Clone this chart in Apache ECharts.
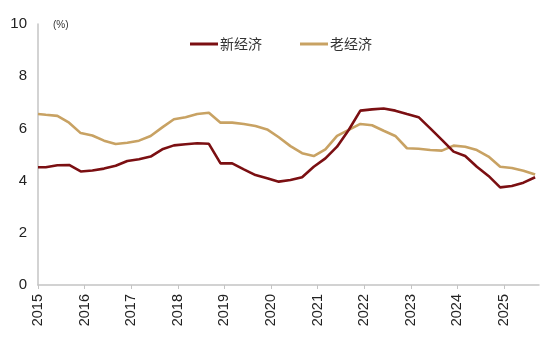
<!DOCTYPE html>
<html>
<head>
<meta charset="utf-8">
<script src="https://cdn.jsdelivr.net/npm/echarts@6/dist/echarts.min.js"></script>
<style>
  html, body { margin: 0; padding: 0; background: #fff; }
  #chart { width: 550px; height: 338px; }
</style>
</head>
<body>
<div id="chart"></div>
<script>
// Quarterly observation months (plus the January 2015 start)
var obsMonths = [
  '2015-01','2015-03','2015-06','2015-09','2015-12',
  '2016-03','2016-06','2016-09','2016-12',
  '2017-03','2017-06','2017-09','2017-12',
  '2018-03','2018-06','2018-09','2018-12',
  '2019-03','2019-06','2019-09','2019-12',
  '2020-03','2020-06','2020-09','2020-12',
  '2021-03','2021-06','2021-09','2021-12',
  '2022-03','2022-06','2022-09','2022-12',
  '2023-03','2023-06','2023-09','2023-12',
  '2024-03','2024-06','2024-09','2024-12',
  '2025-03','2025-06','2025-09'
];

// 新经济 (%)
var newEconomy = [
  4.51, 4.51, 4.59, 4.60, 4.35,
  4.39, 4.46, 4.57, 4.75,
  4.82, 4.92, 5.20, 5.35,
  5.39, 5.43, 5.41, 4.66,
  4.66, 4.43, 4.21, 4.09,
  3.96, 4.02, 4.13, 4.53,
  4.85, 5.30, 5.94, 6.68,
  6.73, 6.76, 6.68, 6.55,
  6.43, 6.00, 5.56, 5.11,
  4.94, 4.53, 4.18, 3.74,
  3.79, 3.92, 4.13
];

// 老经济 (%)
var oldEconomy = [
  6.55, 6.52, 6.48, 6.22, 5.82,
  5.73, 5.53, 5.40, 5.45,
  5.53, 5.71, 6.04, 6.35,
  6.43, 6.55, 6.60, 6.22,
  6.22, 6.17, 6.09, 5.96,
  5.66, 5.32, 5.05, 4.94,
  5.20, 5.71, 5.94, 6.17,
  6.12, 5.91, 5.71, 5.24,
  5.22, 5.17, 5.15, 5.34,
  5.30, 5.17, 4.92, 4.53,
  4.48, 4.38, 4.23
];

var seriesNames = ['新经济', '老经济'];
var yTicks = { min: 0, max: 10, interval: 2 };

// Monthly category axis, Jan 2015 through Oct 2025
var monthAxis = [];
for (var y = 2015; y <= 2025; y++) {
  for (var m = 1; m <= 12; m++) {
    if (y === 2025 && m > 10) break;
    monthAxis.push(y + '-' + (m < 10 ? '0' + m : m));
  }
}

function pairs(values) {
  return obsMonths.map(function (d, i) { return [d, values[i]]; });
}
function isJanuary(idx, val) { return String(val).slice(5) === '01'; }

var textFont = '"Liberation Sans", Arial, "Noto Sans CJK SC", sans-serif';

var chart = echarts.init(document.getElementById('chart'));
chart.setOption({
  animation: false,
  backgroundColor: '#ffffff',
  color: ['#7b0f12', '#c8a263'],
  grid: { left: 38, right: 11, top: 24, bottom: 53, containLabel: false },
  legend: {
    data: seriesNames.map(function (n) { return { name: n, icon: 'rect' }; }),
    left: 185,
    top: 32,
    itemWidth: 28,
    itemHeight: 3,
    itemGap: 38,
    textStyle: { fontSize: 14, color: '#333', fontFamily: '"Noto Sans CJK SC", sans-serif', padding: [0, 0, 0, -3] }
  },
  graphic: [{
    type: 'text',
    left: 53,
    top: 20,
    style: { text: '(%)', fontSize: 10, fill: '#333', fontFamily: textFont }
  }],
  xAxis: {
    type: 'category',
    data: monthAxis,
    boundaryGap: false,
    axisLine: { show: true, lineStyle: { color: '#c4c4c4', width: 1.5 } },
    axisTick: { show: true, interval: isJanuary, length: 4, lineStyle: { color: '#c4c4c4' } },
    axisLabel: {
      interval: isJanuary,
      rotate: 90,
      margin: 9,
      fontSize: 14.5,
      color: '#222',
      fontFamily: textFont,
      formatter: function (v) { return v.slice(0, 4); }
    },
    splitLine: { show: false }
  },
  yAxis: {
    type: 'value',
    min: yTicks.min,
    max: yTicks.max,
    interval: yTicks.interval,
    axisLine: { show: true, lineStyle: { color: '#c4c4c4', width: 1.5 } },
    axisTick: { show: false },
    axisLabel: { fontSize: 15, color: '#222', margin: 11, fontFamily: textFont },
    splitLine: { show: false }
  },
  series: [
    {
      name: seriesNames[0],
      type: 'line',
      data: pairs(newEconomy),
      symbol: 'none',
      connectNulls: true,
      lineStyle: { width: 2.6 },
      z: 3
    },
    {
      name: seriesNames[1],
      type: 'line',
      data: pairs(oldEconomy),
      symbol: 'none',
      connectNulls: true,
      lineStyle: { width: 2.6 },
      z: 2
    }
  ]
});
</script>
</body>
</html>
